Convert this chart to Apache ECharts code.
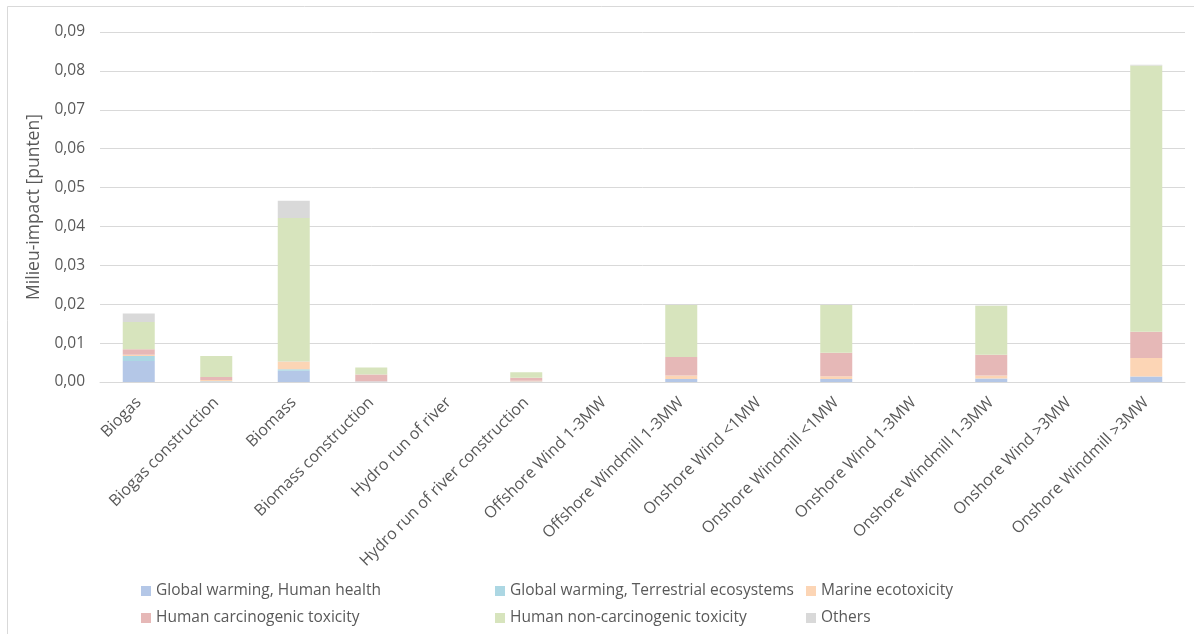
<!DOCTYPE html>
<html>
<head>
<meta charset="utf-8">
<script src="https://cdn.jsdelivr.net/npm/echarts@6/dist/echarts.min.js"></script>
<style>
  html, body { margin: 0; padding: 0; background: #fff; }
  #chart { width: 1194px; height: 634px; }
</style>
</head>
<body>
<div id="chart"></div>
<script>
var categories = ['Biogas', 'Biogas construction', 'Biomass', 'Biomass construction',
    'Hydro run of river', 'Hydro run of river construction', 'Offshore Wind 1-3MW',
    'Offshore Windmill 1-3MW', 'Onshore Wind <1MW', 'Onshore Windmill <1MW',
    'Onshore Wind 1-3MW', 'Onshore Windmill 1-3MW', 'Onshore Wind >3MW', 'Onshore Windmill >3MW'];

var gwHuman    = [0.0054, 0.0001, 0.0029, 0.0001, 0, 0.0001, 0, 0.0008, 0, 0.0008, 0, 0.0009, 0, 0.0014];
var gwTerr     = [0.0013, 0.0001, 0.0004, 0,      0, 0,      0, 0,      0, 0,      0, 0,      0, 0];
var marine     = [0.0003, 0.0003, 0.0019, 0.0001, 0, 0.0002, 0, 0.0009, 0, 0.0007, 0, 0.0008, 0, 0.0048];
var humanCarc  = [0.0014, 0.0008, 0.0001, 0.0017, 0, 0.0008, 0, 0.0047, 0, 0.0060, 0, 0.0053, 0, 0.0067];
var humanNonCarc = [0.0070, 0.0054, 0.0369, 0.0018, 0, 0.0014, 0, 0.0134, 0, 0.0123, 0, 0.0126, 0, 0.0685];
var others     = [0.0022, 0,      0.0044, 0,      0, 0,      0, 0.0001, 0, 0.0001, 0, 0.0001, 0, 0.0002];

var seriesNames = ['Global warming, Human health', 'Global warming, Terrestrial ecosystems',
    'Marine ecotoxicity', 'Human carcinogenic toxicity', 'Human non-carcinogenic toxicity', 'Others'];
var seriesData = [gwHuman, gwTerr, marine, humanCarc, humanNonCarc, others];
var colors = ['#b4c7e7', '#acd7e3', '#fcd5b5', '#e6b8b7', '#d7e4bd', '#d9d9d9'];

var textColor = '#595959';
var fontFam = '"Open Sans", "Liberation Sans", sans-serif';

var myChart = echarts.init(document.getElementById('chart'));

var series = seriesNames.map(function (name, i) {
    return {
        name: name,
        type: 'bar',
        stack: 'total',
        barWidth: 32,
        data: seriesData[i],
        itemStyle: { color: colors[i] }
    };
});

function legendCol(left, names) {
    return {
        orient: 'vertical',
        left: left,
        top: 578,
        itemGap: 11,
        itemWidth: 10,
        itemHeight: 10,
        icon: 'rect',
        data: names,
        textStyle: { color: textColor, fontSize: 15.5, fontFamily: fontFam }
    };
}

var option = {
    backgroundColor: '#fff',
    animation: false,
    color: colors,
    graphic: [{
        type: 'rect',
        shape: { x: 7.5, y: 6.5, width: 1300, height: 800 },
        style: { fill: null, stroke: '#d9d9d9', lineWidth: 1 },
        silent: true
    }],
    grid: { left: 100, right: 9, top: 32, bottom: 252 },
    legend: [
        legendCol(136, [seriesNames[0], seriesNames[3]]),
        legendCol(490, [seriesNames[1], seriesNames[4]]),
        legendCol(801, [seriesNames[2], seriesNames[5]])
    ],
    xAxis: {
        type: 'category',
        data: categories,
        axisLine: { lineStyle: { color: '#d9d9d9' } },
        axisTick: { show: false },
        axisLabel: {
            rotate: 45,
            interval: 0,
            margin: 18,
            color: textColor,
            fontSize: 16,
            fontFamily: fontFam
        }
    },
    yAxis: {
        type: 'value',
        min: 0,
        max: 0.09,
        interval: 0.01,
        name: 'Milieu-impact [punten]',
        nameLocation: 'middle',
        nameGap: 56,
        nameTextStyle: { color: textColor, fontSize: 17.5, fontFamily: fontFam },
        splitLine: { lineStyle: { color: '#d9d9d9' } },
        axisLabel: {
            margin: 15,
            color: textColor,
            fontSize: 15.5,
            fontFamily: fontFam,
            formatter: function (v) { return v.toFixed(2).replace('.', ','); }
        }
    },
    series: series
};

myChart.setOption(option);
</script>
</body>
</html>
